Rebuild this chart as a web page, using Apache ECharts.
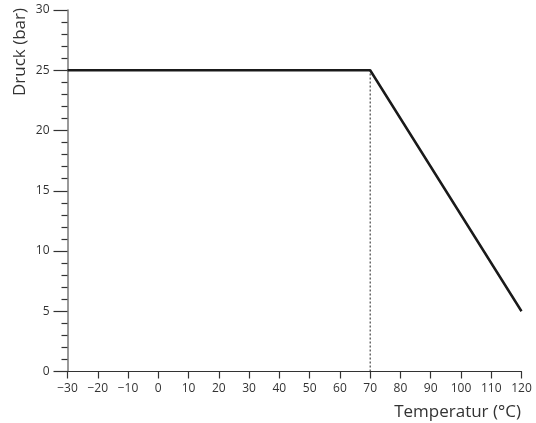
<!DOCTYPE html>
<html>
<head>
<meta charset="utf-8">
<script src="https://cdn.jsdelivr.net/npm/echarts@6/dist/echarts.min.js"></script>
<style>html,body{margin:0;padding:0;background:#fff}#c{width:536px;height:423px}</style>
</head>
<body>
<div id="c"></div>
<script>
var temperatures = [-30, 70, 120];
var pressures = [25, 25, 5];
var xTicks = [-30, -20, -10, 0, 10, 20, 30, 40, 50, 60, 70, 80, 90, 100, 110, 120];
var yTicks = [0, 5, 10, 15, 20, 25, 30];
var xTitle = 'Temperatur (°C)';
var yTitle = 'Druck (bar)';
var kneeIndex = 1;

var font = 'Open Sans';
var chart = echarts.init(document.getElementById('c'));
var lineData = temperatures.map(function (t, i) { return [t, pressures[i]]; });
var kneeData = [[temperatures[kneeIndex], yTicks[0]], [temperatures[kneeIndex], pressures[kneeIndex]]];

chart.setOption({
  animation: false,
  backgroundColor: '#fff',
  grid: { left: 67.5, right: 14.5, top: 10, bottom: 51.5, containLabel: false },
  xAxis: {
    type: 'value',
    min: xTicks[0], max: xTicks[xTicks.length - 1], interval: 10,
    axisLine: { show: true, onZero: false, lineStyle: { color: '#333', width: 1.2 } },
    axisTick: { show: true, length: 7, lineStyle: { color: '#333', width: 1.2 } },
    splitLine: { show: false },
    axisLabel: {
      color: '#333', fontFamily: font, fontSize: 12, margin: 11,
      formatter: function (v) { return String(v).replace('-', '\u2212'); }
    }
  },
  yAxis: {
    type: 'value',
    min: yTicks[0], max: yTicks[yTicks.length - 1], interval: 5,
    axisLine: { show: true, onZero: false, lineStyle: { color: '#777', width: 1.5 } },
    axisTick: { show: true, length: 14, lineStyle: { color: '#333', width: 1.2 } },
    minorTick: { show: true, splitNumber: 5, length: 6, lineStyle: { color: '#333', width: 1.2 } },
    splitLine: { show: false },
    axisLabel: { color: '#333', fontFamily: font, fontSize: 12, margin: 18 }
  },
  graphic: [
    {
      type: 'text', x: 20, y: 52, rotation: Math.PI / 2,
      style: { text: yTitle, fontFamily: font, fontSize: 17, fill: '#333', textAlign: 'center', textVerticalAlign: 'middle' }
    },
    {
      type: 'text', x: 521, y: 412,
      style: { text: xTitle, fontFamily: font, fontSize: 17, fill: '#333', textAlign: 'right', textVerticalAlign: 'middle' }
    }
  ],
  series: [
    {
      type: 'line', data: kneeData, symbol: 'none', silent: true,
      lineStyle: { color: '#222', width: 1, type: [2, 2] }
    },
    {
      type: 'line', data: lineData, symbol: 'none', silent: true,
      lineStyle: { color: '#1a1a1a', width: 2.5 }
    }
  ]
});
</script>
</body>
</html>
